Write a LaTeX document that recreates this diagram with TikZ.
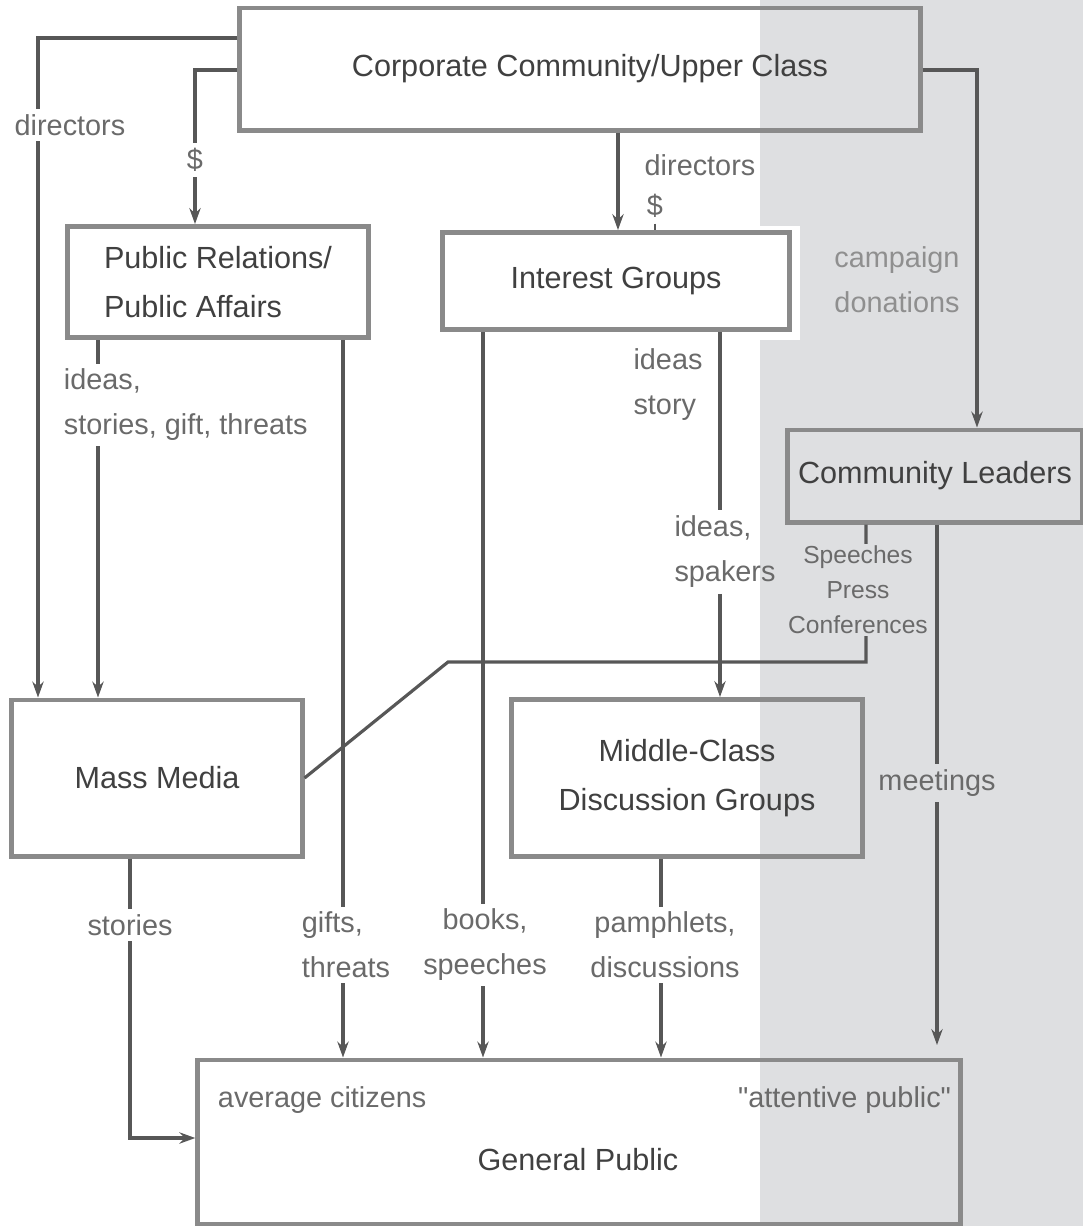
\documentclass[tikz,border=0pt]{standalone}
\usepackage{fontspec}
\setmainfont{Liberation Sans}
\usepackage{xcolor}
\usetikzlibrary{arrows.meta,calc,positioning}

\definecolor{bandgray}{HTML}{DEDFE1}
\definecolor{boxline}{HTML}{8A8A8A}
\definecolor{wire}{HTML}{575757}
\definecolor{boxtext}{HTML}{404040}
\definecolor{labeltext}{HTML}{6A6A6A}

\begin{document}
\begin{tikzpicture}[x=0.01cm, y=-0.01cm,
  box/.style={draw=boxline, line width=1.4pt, inner sep=0pt, align=center,
    text=boxtext, font=\fontsize{8.7}{14}\selectfont},
  lbl/.style={text=labeltext, font=\fontsize{8.2}{12.8}\selectfont,
    align=center, fill=white, inner sep=1.5pt},
  conn/.style={draw=wire, line width=0.9pt},
  tip/.style={-{Stealth[length=4.5pt,width=3.2pt]}}]

  % Frame and grey band on the right
  \useasboundingbox (0,0) rectangle (1083,1226);
  \fill[bandgray] (760,0) rectangle (1083,1226);
  \fill[white] (437,226) rectangle (800,340);

  % Boxes
  \node[box, minimum width=6.8cm, minimum height=1.22cm] (corp) at (580,69) {\hspace*{0.2cm}Corporate Community/Upper Class};
  \node[box, minimum width=3cm, minimum height=1.11cm, align=left] (pr) at (218,282) {Public Relations/\\Public Affairs};
  \node[box, minimum width=3.47cm, minimum height=0.97cm, fill=white] (ig) at (616,281) {Interest Groups};
  \node[box, minimum width=2.94cm, minimum height=0.92cm] (cl) at (935,476) {Community Leaders};
  \node[box, minimum width=2.9cm, minimum height=1.56cm] (mm) at (157,778) {Mass Media};
  \node[box, minimum width=3.51cm, minimum height=1.57cm] (mc) at (687,778) {Middle-Class\\Discussion Groups};
  \node[box, minimum width=7.62cm, minimum height=1.64cm] (gp) at (579,1142) {};

  % Texts inside the General Public box
  \node[lbl, fill=none, anchor=west] (avg) at (212,1100) {average citizens};
  \node[lbl, fill=none, anchor=east] (att) at (957,1100) {\textquotedbl attentive public\textquotedbl};
  \node[box, draw=none] (gptitle) at (578,1160) {General Public};

  % Turning points
  \coordinate (dirL) at (38,38);
  \coordinate (cashL) at (195,70);
  \coordinate (donR) at (977,70);
  \coordinate (bend) at (448,662);
  \coordinate (pressC) at (866,662);

  % Connectors from the top box
  \draw[conn, tip] (corp.west |- dirL) -- (dirL) -- (dirL |- mm.north);
  \draw[conn, tip] (corp.west |- cashL) -- (cashL) -- (cashL |- pr.north);
  \draw[conn, tip] (corp.east |- donR) -- (donR) -- (donR |- cl.north);
  \draw[conn, tip] (corp.south -| 618,0) -- (ig.north -| 618,0);

  % Connectors further down
  \draw[conn, tip] (pr.south -| 98,0) -- (mm.north -| 98,0);
  \draw[conn, tip] (pr.south -| 343,0) -- (gp.north -| 343,0);
  \draw[conn, tip] (ig.south -| 483,0) -- (gp.north -| 483,0);
  \draw[conn, tip] (mc.south -| 661,0) -- (gp.north -| 661,0);
  \draw[conn, tip] (cl.south -| 937,0) -- (937,1045);
  \draw[conn, tip] (mm.south -| 130,0) -- (130,1138) -- (gp.west |- 0,1138);
  \draw[conn] (cl.south -| pressC) -- (pressC) -- (bend) -- (mm.east);

  % Labels on the connectors
  \node[lbl] (dirlbl) at (70,125) {directors};
  \node[lbl] (cashlbl) at (195,160) {\$};
  \node[lbl, fill=none] (dirclbl) at (700,165) {directors};
  \node[lbl, fill=none] (cashclbl) at (655,206) {\$};
  \node[lbl, fill=none, align=left, text=labeltext!75] (donlbl) at (897,280) {campaign\\donations};
  \node[lbl, anchor=west, align=left] (prlbl) at (58,405) {ideas,\\stories, gift, threats};
  \node[lbl, fill=none, align=left] (storylbl) at (668,385) {ideas\\story};
  \node[lbl, fill=none, align=left] (spklbl) at (725,552) {ideas,\\spakers};
  \node[lbl, fill=bandgray, inner sep=0.5pt, font=\fontsize{7}{10}\selectfont] (presslbl) at (858,590) {Speeches\\Press\\Conferences};
  \node[lbl, fill=bandgray] (meetlbl) at (937,783) {meetings};
  \node[lbl] (storieslbl) at (130,925) {stories};
  \node[lbl, align=left] (giftlbl) at (346,945) {gifts,\\threats};
  \node[lbl] (booklbl) at (485,945) {books,\\speeches};
  \node[lbl] (pamphlbl) at (665,945) {pamphlets,\\discussions};

  % Pieces that stop at their labels
  \draw[conn, line width=0.6pt] (cashclbl.south) -- (cashclbl.south |- ig.north);
  \draw[conn] (ig.south -| 720,0) -- (spklbl.north -| 720,0);
  \draw[conn, tip] (spklbl.south -| 720,0) -- (mc.north -| 720,0);
\end{tikzpicture}
\end{document}
